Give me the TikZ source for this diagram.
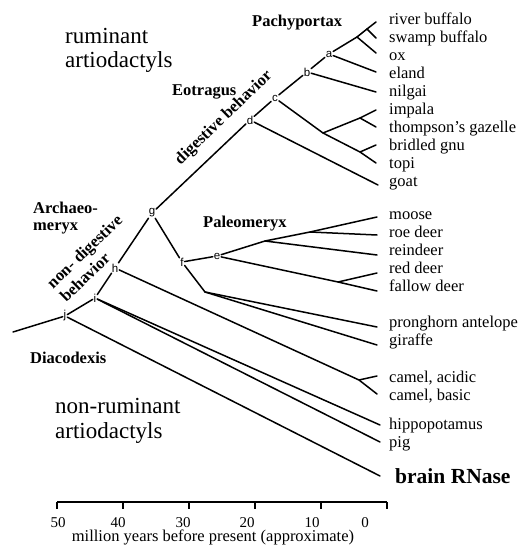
\documentclass[tikz,border=0pt]{standalone}
\usepackage{fontspec}
\setmainfont{Liberation Serif}
\setsansfont{Liberation Sans}

\begin{document}
\begin{tikzpicture}[
    x=1pt, y=-1pt,
    branch/.style={line width=1.5pt, line cap=round, line join=round},
    fork/.style={font=\sffamily\fontsize{11.5}{11.5}\selectfont, inner sep=0.8pt},
    taxon/.style={anchor=base west, inner sep=0pt, font=\fontsize{16.5}{19}\selectfont},
    fossil/.style={anchor=base west, inner sep=0pt, font=\bfseries\fontsize{16.5}{19}\selectfont},
    habit/.style={inner sep=0pt, rotate=44, align=left, font=\bfseries\fontsize{16.5}{19}\selectfont},
    group/.style={anchor=base west, inner sep=0pt, align=left, font=\fontsize{23}{24.5}\selectfont},
    timeaxis/.style={line width=1.2pt},
    ticklabel/.style={anchor=base, inner sep=0pt, font=\fontsize{15}{15}\selectfont}
]
\useasboundingbox (0,0) rectangle (523,545);

% labelled branch points
\node[fork] (a) at (329,54) {a};
\node[fork] (b) at (307,72) {b};
\node[fork] (c) at (275,98) {c};
\node[fork] (d) at (250,120) {d};
\node[fork] (e) at (217,256) {e};
\node[fork] (f) at (182,262) {f};
\node[fork] (g) at (152,213) {g};
\node[fork] (h) at (115,268) {h};
\node[fork] (i) at (95,298) {i};
\node[fork] (j) at (65,316) {j};

% unlabelled branch points
\coordinate (Root) at (13,332);
\coordinate (BuffaloFork) at (357,37);
\coordinate (SwampFork) at (367,29);
\coordinate (AntelopeFork) at (323,133);
\coordinate (GazelleFork) at (360,118);
\coordinate (GnuFork) at (360,152);
\coordinate (DeerFork) at (265,241);
\coordinate (MooseFork) at (310,232);
\coordinate (CervusFork) at (338,282);
\coordinate (GiraffeFork) at (205,292);
\coordinate (CamelFork) at (359,380);

% tips
\coordinate (RiverBuffalo) at (376,22);
\coordinate (SwampBuffalo) at (376,38);
\coordinate (Ox) at (376,53);
\coordinate (Eland) at (376,72);
\coordinate (Nilgai) at (376,92);
\coordinate (Impala) at (376,110);
\coordinate (Gazelle) at (376,127);
\coordinate (Gnu) at (376,145);
\coordinate (Topi) at (376,163);
\coordinate (Goat) at (378,185);
\coordinate (Moose) at (377,217);
\coordinate (RoeDeer) at (377,235);
\coordinate (Reindeer) at (377,255);
\coordinate (RedDeer) at (377,273);
\coordinate (FallowDeer) at (377,291);
\coordinate (Pronghorn) at (377,327);
\coordinate (Giraffe) at (377,345);
\coordinate (CamelAcidic) at (377,376);
\coordinate (CamelBasic) at (377,394);
\coordinate (Hippo) at (380,425);
\coordinate (Pig) at (380,442);
\coordinate (Brain) at (380,476);

% branches
\draw[branch] (Root) -- (j) -- (i) -- (h) -- (g) -- (d) -- (c) -- (b) -- (a) -- (BuffaloFork) -- (SwampFork) -- (RiverBuffalo);
\draw[branch] (SwampFork) -- (SwampBuffalo);
\draw[branch] (BuffaloFork) -- (Ox);
\draw[branch] (a) -- (Eland);
\draw[branch] (b) -- (Nilgai);
\draw[branch] (c) -- (AntelopeFork) -- (GnuFork) -- (Topi);
\draw[branch] (AntelopeFork) -- (GazelleFork) -- (Impala);
\draw[branch] (GazelleFork) -- (Gazelle);
\draw[branch] (GnuFork) -- (Gnu);
\draw[branch] (d) -- (Goat);
\draw[branch] (g) -- (f) -- (e) -- (DeerFork) -- (MooseFork) -- (Moose);
\draw[branch] (MooseFork) -- (RoeDeer);
\draw[branch] (DeerFork) -- (Reindeer);
\draw[branch] (e) -- (CervusFork) -- (RedDeer);
\draw[branch] (CervusFork) -- (FallowDeer);
\draw[branch] (f) -- (GiraffeFork) -- (Pronghorn);
\draw[branch] (GiraffeFork) -- (Giraffe);
\draw[branch] (h) -- (CamelFork) -- (CamelAcidic);
\draw[branch] (CamelFork) -- (CamelBasic);
\draw[branch] (i) -- (Hippo);
\draw[branch] (i) -- (Pig);
\draw[branch] (j) -- (Brain);

% species
\node[taxon] (tRiverBuffalo) at (389,25) {river buffalo};
\node[taxon] (tSwampBuffalo) at (389,43) {swamp buffalo};
\node[taxon] (tOx) at (389,61) {ox};
\node[taxon] (tEland) at (389,79) {eland};
\node[taxon] (tNilgai) at (389,97) {nilgai};
\node[taxon] (tImpala) at (389,115) {impala};
\node[taxon] (tGazelle) at (389,133) {thompson's gazelle};
\node[taxon] (tGnu) at (389,151) {bridled gnu};
\node[taxon] (tTopi) at (389,169) {topi};
\node[taxon] (tGoat) at (389,187) {goat};
\node[taxon] (tMoose) at (389,219) {moose};
\node[taxon] (tRoeDeer) at (389,237) {roe deer};
\node[taxon] (tReindeer) at (389,255) {reindeer};
\node[taxon] (tRedDeer) at (389,273) {red deer};
\node[taxon] (tFallowDeer) at (389,291) {fallow deer};
\node[taxon] (tPronghorn) at (389,327) {pronghorn antelope};
\node[taxon] (tGiraffe) at (389,345) {giraffe};
\node[taxon] (tCamelAcidic) at (389,382) {camel, acidic};
\node[taxon] (tCamelBasic) at (389,400) {camel, basic};
\node[taxon] (tHippo) at (389,429) {hippopotamus};
\node[taxon] (tPig) at (389,447) {pig};
\node[fossil, font=\bfseries\fontsize{21.5}{24}\selectfont] (tBrain) at (395,483) {brain RNase};

% fossils and habits
\node[fossil] (Pachyportax) at (252,27) {Pachyportax};
\node[fossil] (Eotragus) at (172,96) {Eotragus};
\node[fossil] (Paleomeryx) at (203,227) {Paleomeryx};
\node[fossil] (Archaeomeryx) at (33,213) {Archaeo-};
\node[fossil] (ArchaeomeryxTail) at (33,230) {meryx};
\node[fossil] (Diacodexis) at (30,363) {Diacodexis};
\node[habit] (Digestive) at (224,118) {digestive behavior};
\node[habit] (NonDigestive) at (91,258) {non- digestive\\behavior};

% groups (base is the last line)
\node[group] (Ruminant) at (65,68) {ruminant\\artiodactyls};
\node[group] (NonRuminant) at (55,438) {non-ruminant\\artiodactyls};

% time axis
\coordinate (AxisLeft) at (57,502);
\coordinate (AxisRight) at (387,502);
\draw[timeaxis] (AxisLeft) -- (AxisRight);
\foreach \x in {57,123,189,255,321,387}
    \draw[timeaxis] (\x,502) -- (\x,509);
\node[ticklabel] (My50) at (58,527) {50};
\node[ticklabel] (My40) at (118,527) {40};
\node[ticklabel] (My30) at (183,527) {30};
\node[ticklabel] (My20) at (247,527) {20};
\node[ticklabel] (My10) at (312,527) {10};
\node[ticklabel] (My0) at (365,527) {0};
\node[anchor=base, inner sep=0pt, font=\fontsize{16.5}{19}\selectfont] (Caption) at (213,541) {million years before present (approximate)};
\end{tikzpicture}
\end{document}
